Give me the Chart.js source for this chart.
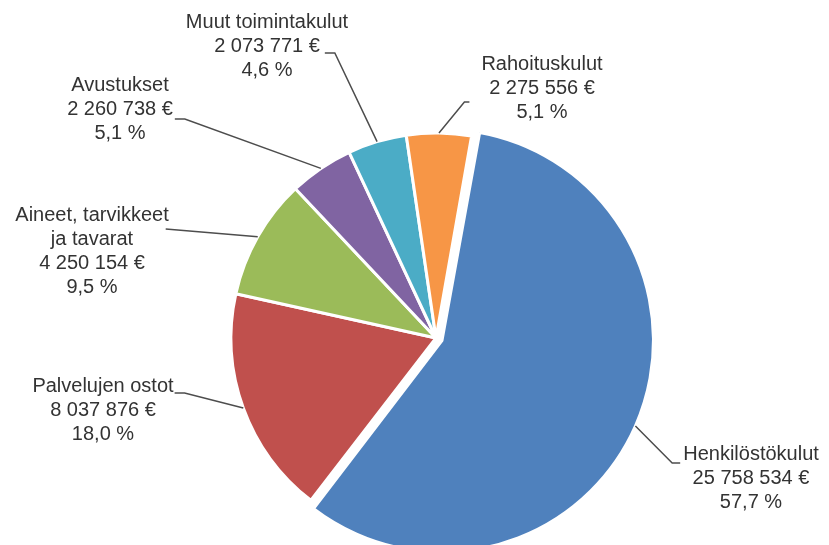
<!DOCTYPE html>
<html>
<head>
<meta charset="utf-8">
<script src="https://cdn.jsdelivr.net/npm/chart.js@4.4.1/dist/chart.umd.min.js"></script>
<style>
  html, body { margin: 0; padding: 0; background: #fff; overflow: hidden; }
  #wrap { width: 829px; height: 676px; }
</style>
</head>
<body>
<div id="wrap"><canvas id="costChart" width="829" height="676"></canvas></div>
<script>
const categories = ['Henkilöstökulut', 'Palvelujen ostot', ['Aineet, tarvikkeet', 'ja tavarat'], 'Avustukset', 'Muut toimintakulut', 'Rahoituskulut'];
const costs = [25758534, 8037876, 4250154, 2260738, 2073771, 2275556];
const sliceColors = ['#4f81bd', '#c0504d', '#9bbb59', '#8064a2', '#4bacc6', '#f79646'];

// label box centre measured from the pie centre, plus how the leader line attaches
const labelSpots = [
    { dx: 315, dy: 140, side: 'left', line: 0, ly: 9, gap: 3, stub: 8 },
    { dx: -333, dy: 72, side: 'right', line: 0, ly: 7, gap: 1, stub: 10 },
    { dx: -344, dy: -87, side: 'right', line: 0, ly: 14, gap: -3, stub: 0 },
    { dx: -316, dy: -229, side: 'right', line: 1, ly: 10, gap: 2, stub: 10 },
    { dx: -169, dy: -292, side: 'right', line: 1, ly: 7, gap: 5, stub: 10 },
    { dx: 106, dy: -250, side: 'left', line: 0, ly: 38, gap: 12, stub: 5 }
];

function fmtEuro(v) {
    return String(v).replace(/\B(?=(\d{3})+(?!\d))/g, ' ') + ' €';
}
function fmtPct(p) {
    return (p * 100).toFixed(1).replace('.', ',') + ' %';
}

const pieLabels = {
    id: 'pieLabels',
    afterDatasetsDraw(chart) {
        const ctx = chart.ctx;
        const meta = chart.getDatasetMeta(0);
        const total = costs.reduce((a, b) => a + b, 0);
        const lh = 24;
        ctx.save();
        ctx.font = '20px "Liberation Sans", Arial, sans-serif';
        ctx.textAlign = 'center';
        ctx.textBaseline = 'middle';
        meta.data.forEach((arc, i) => {
            const p = arc.getProps(['x', 'y', 'startAngle', 'endAngle', 'outerRadius'], true);
            const mid = (p.startAngle + p.endAngle) / 2;
            const off = (arc.options.offset || 0) / 4;
            const fix = 1 - Math.sin(Math.min(Math.PI, p.endAngle - p.startAngle));
            const shift = off + off * fix;
            const ax = p.x + Math.cos(mid) * (p.outerRadius + shift);
            const ay = p.y + Math.sin(mid) * (p.outerRadius + shift);

            const spot = labelSpots[i];
            const lines = [].concat(categories[i], fmtEuro(costs[i]), fmtPct(costs[i] / total));
            const bx = p.x + spot.dx;
            const by = p.y + spot.dy;
            const top = by - (lines.length - 1) * lh / 2;

            // leader line
            const w = ctx.measureText(lines[spot.line]).width;
            const ey = top + spot.line * lh + spot.ly;
            const ex = spot.side === 'left' ? bx - w / 2 - spot.gap : bx + w / 2 + spot.gap;
            const kx = spot.side === 'left' ? ex - spot.stub : ex + spot.stub;
            ctx.strokeStyle = '#4d4d4d';
            ctx.lineWidth = 1.5;
            ctx.beginPath();
            ctx.moveTo(ax, ay);
            ctx.lineTo(kx, ey);
            ctx.lineTo(ex, ey);
            ctx.stroke();

            ctx.fillStyle = '#333333';
            lines.forEach((t, j) => ctx.fillText(t, bx, top + j * lh));
        });
        ctx.restore();
    }
};

new Chart(document.getElementById('costChart').getContext('2d'), {
    type: 'pie',
    data: {
        labels: categories,
        datasets: [{
            data: costs,
            backgroundColor: sliceColors,
            borderColor: '#ffffff',
            borderWidth: 3,
            offset: [26, 0, 0, 0, 0, 0],
            hoverOffset: 0
        }]
    },
    options: {
        responsive: false,
        animation: false,
        events: [],
        rotation: 10,
        radius: 205,
        layout: { padding: { left: 43 } },
        plugins: {
            legend: { display: false },
            tooltip: { enabled: false }
        }
    },
    plugins: [pieLabels]
});
</script>
</body>
</html>
